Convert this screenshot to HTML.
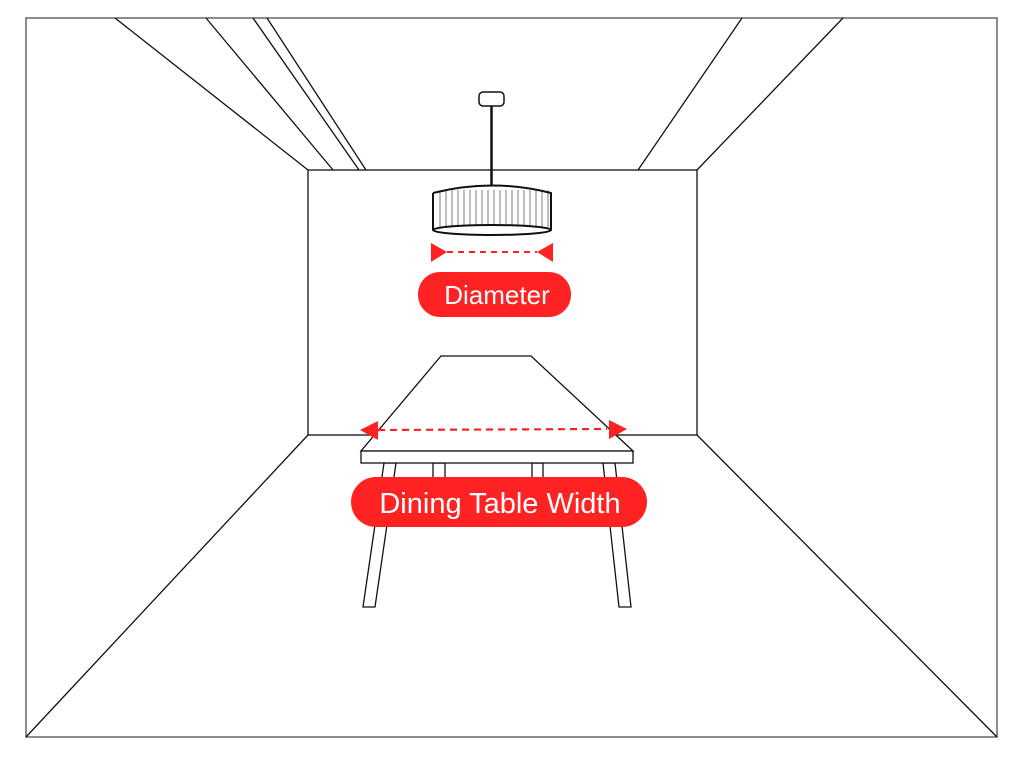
<!DOCTYPE html>
<html><head><meta charset="utf-8"><style>html,body{margin:0;padding:0;background:#fff;}svg{display:block}</style></head>
<body>
<svg width="1024" height="764" viewBox="0 0 1024 764" xmlns="http://www.w3.org/2000/svg">
<rect x="26" y="18" width="971" height="719" fill="none" stroke="#666" stroke-width="1.5"/>
<g stroke="#111" stroke-width="1.3" fill="none">
<rect x="308" y="170" width="389" height="265"/>
<line x1="115" y1="18" x2="308" y2="170"/>
<line x1="206" y1="18" x2="333" y2="170"/>
<line x1="253" y1="18" x2="359" y2="170"/>
<line x1="267" y1="18" x2="366" y2="170"/>
<line x1="843" y1="18" x2="697" y2="170"/>
<line x1="742" y1="18" x2="638" y2="170"/>
<line x1="26" y1="737" x2="308" y2="435"/>
<line x1="997" y1="737" x2="697" y2="435"/>
</g>
<!-- lamp -->
<rect x="479" y="92" width="25" height="14" rx="4" fill="#fff" stroke="#111" stroke-width="1.5"/>
<line x1="491.5" y1="106" x2="491.5" y2="186" stroke="#111" stroke-width="2.5"/>
<g stroke="#888" stroke-width="1.1">
<line x1="440" y1="190" x2="440" y2="228"/><line x1="446" y1="190" x2="446" y2="228"/><line x1="452" y1="190" x2="452" y2="228"/><line x1="458" y1="190" x2="458" y2="228"/><line x1="464" y1="190" x2="464" y2="228"/><line x1="470" y1="190" x2="470" y2="228"/><line x1="476" y1="190" x2="476" y2="228"/><line x1="482" y1="190" x2="482" y2="228"/><line x1="488" y1="190" x2="488" y2="228"/><line x1="494" y1="190" x2="494" y2="228"/><line x1="500" y1="190" x2="500" y2="228"/><line x1="506" y1="190" x2="506" y2="228"/><line x1="512" y1="190" x2="512" y2="228"/><line x1="518" y1="190" x2="518" y2="228"/><line x1="524" y1="190" x2="524" y2="228"/><line x1="530" y1="190" x2="530" y2="228"/><line x1="536" y1="190" x2="536" y2="228"/><line x1="542" y1="190" x2="542" y2="228"/><line x1="548" y1="190" x2="548" y2="228"/>
</g>
<path d="M433 193 Q492 178 551 193 L551 230 M433 193 L433 230" fill="none" stroke="#111" stroke-width="2"/>
<ellipse cx="492" cy="230" rx="59" ry="5" fill="#fff" stroke="#111" stroke-width="2"/>
<!-- diameter arrow -->
<polygon points="431,243 447,252 431,262" fill="#f22"/>
<polygon points="553,243 537,252 553,262" fill="#f22"/>
<line x1="447" y1="252" x2="537" y2="252" stroke="#f22" stroke-width="2" stroke-dasharray="6,5"/>
<rect x="418" y="272" width="153" height="45" rx="22" fill="#f22"/>
<text x="497" y="304" font-family="Liberation Sans, sans-serif" font-size="26" fill="#fff" text-anchor="middle">Diameter</text>
<!-- table -->
<g stroke="#111" stroke-width="1.3" fill="#fff">
<polygon points="441,356 531,356 633,451 361,451"/>
<polygon points="384,463 396,463 375,607 363,607"/>
<polygon points="603,463 615,463 631,607 619,607"/>
<rect x="433" y="463" width="12" height="15"/>
<rect x="532" y="463" width="11" height="15"/>
<rect x="361" y="451" width="272" height="12"/>
</g>
<line x1="378" y1="430" x2="607" y2="429" stroke="#f22" stroke-width="2.2" stroke-dasharray="7,5"/>
<polygon points="360,430 378,421 378,440" fill="#f22"/>
<polygon points="627,429 609,420 609,439" fill="#f22"/>
<rect x="351" y="477" width="296" height="50" rx="25" fill="#f22"/>
<text x="500" y="513" font-family="Liberation Sans, sans-serif" font-size="29" fill="#fff" text-anchor="middle">Dining Table Width</text>
</svg>
</body></html>
